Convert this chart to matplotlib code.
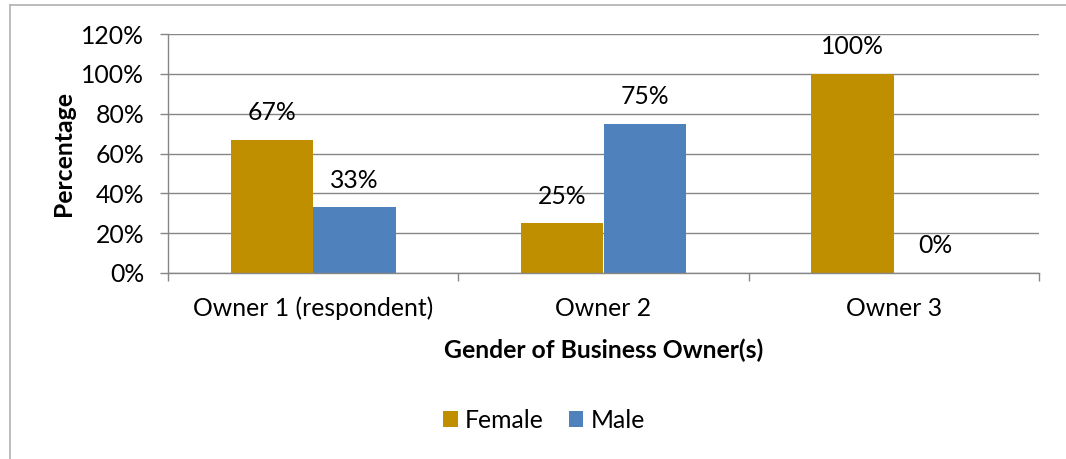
import matplotlib
matplotlib.use("Agg")
import matplotlib.pyplot as plt
from matplotlib.ticker import FuncFormatter, FixedLocator
from matplotlib.lines import Line2D
import numpy as np

categories = ["Owner 1 (respondent)", "Owner 2", "Owner 3"]
female = [0.67, 0.25, 1.00]
male = [0.33, 0.75, 0.00]
series_names = ["Female", "Male"]
colors = ["#BF8F00", "#4F81BD"]
yticks = [0, 0.2, 0.4, 0.6, 0.8, 1.0, 1.2]

plt.rcParams['font.family'] = ['Lato', 'DejaVu Sans']
FS = 17.8

W, H = 1066, 459
fig = plt.figure(figsize=(W / 100, H / 100), dpi=100)
fig.patch.set_facecolor("white")
ax = fig.add_axes([168 / W, 1 - 273 / H, (1039 - 168) / W, (273 - 34) / H])

x = np.arange(len(categories))
w = 0.284
b1 = ax.bar(x - w / 2, female, w, color=colors[0], label=series_names[0], zorder=3)
b2 = ax.bar(x + w / 2, male, w, color=colors[1], label=series_names[1], zorder=3)

for bars, vals in ((b1, female), (b2, male)):
    for rect, v in zip(bars, vals):
        ax.annotate(f"{v:.0%}", (rect.get_x() + rect.get_width() / 2, v),
                    xytext=(0, 19.5), textcoords="offset points",
                    ha="center", va="center", fontsize=FS, color="#000000")

ax.set_xlim(-0.5, len(categories) - 0.5)
ax.set_ylim(0, 1.2)
ax.set_yticks(yticks)
ax.yaxis.set_major_formatter(FuncFormatter(lambda v, p: f"{v:.0%}"))
ax.set_xticks(x)
ax.set_xticklabels(categories, fontsize=FS)
ax.xaxis.set_minor_locator(FixedLocator(np.arange(-0.5, len(categories), 1.0)))
ax.tick_params(axis="x", which="major", length=0, pad=17)
ax.tick_params(axis="x", which="minor", length=6, width=1, color="#868686", direction="out")
ax.tick_params(axis="y", length=6, width=1, color="#868686", direction="out", labelsize=FS, pad=11)

ax.grid(axis="y", color="#868686", linewidth=1, zorder=0)
for s in ("top", "right"):
    ax.spines[s].set_visible(False)
for s in ("left", "bottom"):
    ax.spines[s].set_color("#868686")
    ax.spines[s].set_linewidth(1)
    ax.spines[s].set_zorder(4)

ax.set_ylabel("Percentage", fontsize=FS, fontweight="bold")
ax.yaxis.set_label_coords(-(168 - 75) / (1039 - 168), 0.5)
fig.text(603.5 / W, 1 - 350 / H, "Gender of Business Owner(s)", fontsize=FS,
         fontweight="bold", ha="center", va="center")

fig.legend(handles=[b1, b2], labels=series_names, loc="center",
           bbox_to_anchor=(544 / W, 1 - 420 / H), ncol=2, frameon=False,
           fontsize=FS, handlelength=0.6, handleheight=0.6, handletextpad=0.3,
           columnspacing=1.0)

fig.add_artist(Line2D([10 / W, 10 / W], [0, 1 - 5 / H], color="#B0B0B0", linewidth=1.2, transform=fig.transFigure))
fig.add_artist(Line2D([10 / W, 1], [1 - 5 / H, 1 - 5 / H], color="#B0B0B0", linewidth=1.2, transform=fig.transFigure))

fig.savefig("out.png", dpi=100)
